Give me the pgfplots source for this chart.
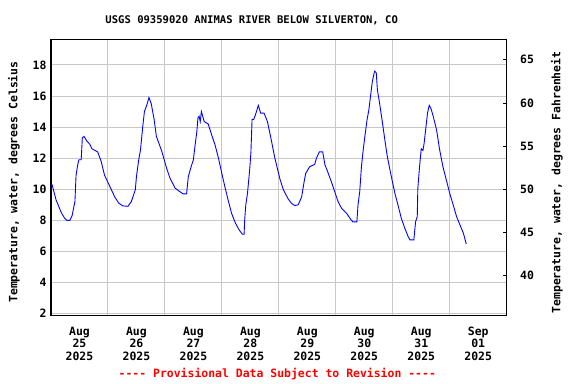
\documentclass[border=0pt]{standalone}
\usepackage{pgfplots}
\pgfplotsset{compat=1.18}
\usepackage{fontspec}
\setmainfont{DejaVu Sans Mono}[Ligatures=TeXOff]
\definecolor{gridc}{RGB}{200,200,200}
\newcommand{\tf}{\fontsize{11.5}{12.6}\selectfont\bfseries}
\begin{document}
\begin{tikzpicture}
\useasboundingbox (0,0) rectangle (576bp,384bp);
\begin{axis}[
  scale only axis, width=455.7bp, height=276.4bp,
  at={(51bp,68.3bp)}, anchor=south west,
  xmin=0, xmax=8, ymin=1.86, ymax=19.65,
  axis line style={black, line width=1.2pt},
  xtick={0.5,1.5,...,7.5},
  xticklabels={{Aug\\25\\2025},{Aug\\26\\2025},{Aug\\27\\2025},{Aug\\28\\2025},{Aug\\29\\2025},{Aug\\30\\2025},{Aug\\31\\2025},{Sep\\01\\2025}},
  xticklabel style={align=center, font=\tf, yshift=-7.5bp},
  minor xtick={1,2,...,7},
  xminorgrids, ymajorgrids,
  minor grid style={gridc, line width=1pt},
  major grid style={gridc, line width=1pt},
  major x tick style={draw=none},
  minor x tick style={draw=none},
  major y tick style={draw=none},
  ytick={2,4,...,18},
  ytick pos=left,
  yticklabel style={font=\tf, xshift=-1bp},
  /pgf/number format/assume math mode=true,
  clip=true,
]
\addplot[color={rgb,255:red,0;green,0;blue,255}, line width=0.9pt] coordinates {
(0.00,10.35) (0.02,10.28) (0.09,9.3) (0.18,8.5) (0.24,8.13) (0.28,8.0) (0.33,8.0) (0.37,8.3) (0.42,9.2) (0.44,10.9) (0.47,11.6) (0.49,11.9) (0.53,11.9) (0.55,13.3) (0.58,13.4) (0.63,13.1) (0.68,12.9) (0.72,12.6) (0.77,12.5) (0.82,12.4) (0.88,11.8) (0.94,10.9) (1.03,10.2) (1.12,9.5) (1.19,9.1) (1.26,8.93) (1.35,8.9) (1.41,9.2) (1.48,9.96) (1.50,10.8) (1.54,11.9) (1.57,12.5) (1.61,14.0) (1.64,15.0) (1.68,15.4) (1.72,15.9) (1.76,15.5) (1.81,14.5) (1.85,13.4) (1.94,12.5) (2.03,11.35) (2.09,10.7) (2.18,10.07) (2.26,9.85) (2.32,9.7) (2.38,9.7) (2.41,10.8) (2.46,11.45) (2.50,11.9) (2.53,12.85) (2.56,13.7) (2.58,14.6) (2.60,14.7) (2.62,14.35) (2.64,15.0) (2.69,14.35) (2.76,14.2) (2.82,13.5) (2.88,12.85) (2.94,12.0) (3.00,11.0) (3.05,10.2) (3.11,9.3) (3.17,8.45) (3.24,7.8) (3.30,7.4) (3.36,7.1) (3.39,7.1) (3.40,8.0) (3.42,9.0) (3.45,9.75) (3.49,11.35) (3.51,12.4) (3.53,14.5) (3.56,14.5) (3.59,14.8) (3.64,15.4) (3.68,14.9) (3.74,14.9) (3.80,14.35) (3.86,13.3) (3.93,12.0) (4.02,10.65) (4.08,9.96) (4.16,9.4) (4.22,9.1) (4.28,8.95) (4.34,9.0) (4.40,9.5) (4.44,10.4) (4.47,11.0) (4.54,11.45) (4.63,11.6) (4.66,12.0) (4.71,12.4) (4.77,12.4) (4.81,11.56) (4.86,11.1) (4.92,10.5) (4.98,9.85) (5.04,9.2) (5.10,8.78) (5.19,8.45) (5.26,8.07) (5.30,7.9) (5.37,7.9) (5.39,9.0) (5.42,9.85) (5.45,11.45) (5.48,12.5) (5.51,13.4) (5.55,14.5) (5.58,15.1) (5.61,16.0) (5.64,16.9) (5.68,17.6) (5.71,17.5) (5.73,16.4) (5.77,15.5) (5.82,14.25) (5.86,13.2) (5.90,12.2) (5.95,11.25) (6.01,10.2) (6.04,9.7) (6.09,9.0) (6.15,8.13) (6.21,7.5) (6.27,6.95) (6.30,6.74) (6.37,6.74) (6.40,7.9) (6.43,8.24) (6.44,10.06) (6.47,11.45) (6.50,12.6) (6.53,12.5) (6.55,12.95) (6.57,13.6) (6.59,14.25) (6.61,14.9) (6.64,15.4) (6.67,15.2) (6.71,14.7) (6.77,13.8) (6.82,12.6) (6.88,11.45) (6.94,10.6) (7.00,9.74) (7.06,9.0) (7.12,8.24) (7.18,7.7) (7.24,7.17) (7.29,6.48)
};
\end{axis}
\begin{axis}[
  scale only axis, width=455.7bp, height=276.4bp,
  at={(51bp,68.3bp)}, anchor=south west,
  xmin=0, xmax=8, ymin=35.348, ymax=67.37,
  axis x line=none, axis y line*=right,
  axis line style={black, line width=1.2pt},
  ytick={40,45,...,65},
  tick align=inside,
  major tick length=4bp,
  major y tick style={black, line width=0.8pt},
  yticklabel style={font=\tf, xshift=10bp},
  /pgf/number format/assume math mode=true,
]
\end{axis}
\node[font=\fontsize{10.6}{12}\selectfont\bfseries] at (251.7bp,363.7bp) {USGS 09359020 ANIMAS RIVER BELOW SILVERTON, CO};
\node[font=\tf, rotate=90] at (14bp,202bp) {Temperature, water, degrees Celsius};
\node[font=\tf, rotate=90] at (557bp,201.5bp) {Temperature, water, degrees Fahrenheit};
\node[font=\tf, text=red] at (277.3bp,9.5bp) {---- Provisional Data Subject to Revision ----};
\end{tikzpicture}
\end{document}
